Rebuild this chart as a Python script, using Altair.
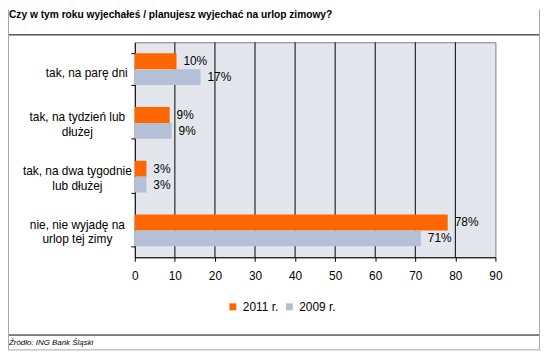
import altair as alt
import pandas as pd

# ---- data ----
categories = [
    "tak, na parę dni",
    "tak, na tydzień lub|dłużej",
    "tak, na dwa tygodnie|lub dłużej",
    "nie, nie wyjadę na|urlop tej zimy",
]
series = ["2011 r.", "2009 r."]
values_2011 = [10.4, 8.7, 2.9, 78.1]
values_2009 = [16.4, 9.2, 2.9, 71.4]
labels_2011 = ["10%", "9%", "3%", "78%"]
labels_2009 = ["17%", "9%", "3%", "71%"]
x_ticks = [0, 10, 20, 30, 40, 50, 60, 70, 80, 90]
grid_values = [10, 20, 30, 40, 50, 60, 70, 80]
title_text = "Czy w tym roku wyjechałeś / planujesz wyjechać na urlop zimowy?"
source_text = "Źródło: ING Bank Śląski"
colors = ["#FF6600", "#B4C0D6"]

rows = []
for c, v, l in zip(categories, values_2011, labels_2011):
    rows.append({"category": c, "series": series[0], "value": v, "label": l})
for c, v, l in zip(categories, values_2009, labels_2009):
    rows.append({"category": c, "series": series[1], "value": v, "label": l})
df = pd.DataFrame(rows)
cat_df = pd.DataFrame({"category": categories})
grid_df = pd.DataFrame({"value": grid_values})
one = pd.DataFrame({"k": [0]})

FONT = "Liberation Sans"
W, H = 364, 217

x_scale = alt.Scale(domain=[0, 90], nice=False)
x_enc = alt.X(
    "value:Q",
    scale=x_scale,
    axis=alt.Axis(
        title=None, values=x_ticks, tickSize=4, labelPadding=9, labelFontSize=12,
        labelFont=FONT, labelColor="black", domainColor="black", tickColor="black",
        grid=False, labelFlush=False,
    ),
)
y_enc = alt.Y(
    "category:N",
    sort=categories,
    scale=alt.Scale(paddingInner=0.41, paddingOuter=0.205),
    axis=alt.Axis(
        title=None, tickBand="extent", labels=False,
        domainColor="black", tickColor="black", tickSize=4, grid=False,
    ),
)
yoff_enc = alt.YOffset("series:N", sort=series, scale=alt.Scale(paddingInner=0, paddingOuter=0))

grid = alt.Chart(grid_df).mark_rule(color="black", strokeWidth=1).encode(x=x_enc)

bars = alt.Chart(df).mark_bar().encode(
    x=x_enc,
    y=y_enc,
    yOffset=yoff_enc,
    color=alt.Color(
        "series:N",
        sort=series,
        scale=alt.Scale(domain=series, range=colors),
        legend=alt.Legend(
            orient="none", legendX=93, legendY=261, direction="horizontal", title=None,
            symbolType="square", symbolSize=49, symbolStrokeWidth=0, labelFontSize=12,
            labelFont=FONT, labelColor="black", columnPadding=5, labelOffset=4, padding=0,
        ),
    ),
)

texts = alt.Chart(df).mark_text(
    align="left", baseline="middle", dx=7, fontSize=12, font=FONT, color="black"
).encode(x=x_enc, y=y_enc, yOffset=yoff_enc, text="label:N")

# category labels (single-line and two-line ones)
cat_single = alt.Chart(cat_df).transform_filter(
    "indexof(datum.category, '|') < 0"
).mark_text(
    align="center", baseline="middle", dy=3.5, fontSize=12, font=FONT, color="black"
).encode(y=y_enc, x=alt.value(-48.5), text="category:N")

cat_multi = alt.Chart(cat_df).transform_filter(
    "indexof(datum.category, '|') >= 0"
).mark_text(
    align="center", baseline="middle", dy=-5.8, fontSize=12, font=FONT, color="black",
    lineBreak="|", lineHeight=15,
).encode(y=y_enc, x=alt.value(-58), text="category:N")

title = alt.Chart(one).mark_text(
    align="left", baseline="alphabetic", fontSize=10.3, fontWeight="bold", font=FONT, color="black"
).encode(x=alt.value(-127), y=alt.value(-25), text=alt.value(title_text))

source = alt.Chart(one).mark_text(
    align="left", baseline="alphabetic", fontSize=8, fontStyle="italic", font=FONT, color="black"
).encode(x=alt.value(-127), y=alt.value(306), text=alt.value(source_text))

line_top = alt.Chart(one).mark_rule(color="black", strokeWidth=1).encode(
    x=alt.value(-128), x2=alt.value(409), y=alt.value(-7.5))
line_bottom = alt.Chart(one).mark_rule(color="black", strokeWidth=1).encode(
    x=alt.value(-128), x2=alt.value(409), y=alt.value(295.5))
frame_left = alt.Chart(one).mark_rule(color="#A6A6A6", strokeWidth=1).encode(
    x=alt.value(-127.5), y=alt.value(-33), y2=alt.value(310.5))
frame_right = alt.Chart(one).mark_rule(color="#A6A6A6", strokeWidth=1).encode(
    x=alt.value(408.5), y=alt.value(-33), y2=alt.value(310.5))
frame_bottom = alt.Chart(one).mark_rule(color="#A6A6A6", strokeWidth=1).encode(
    x=alt.value(-128), x2=alt.value(409), y=alt.value(310.5))

chart = alt.layer(
    grid, bars, texts, cat_single, cat_multi, title, source,
    line_top, line_bottom, frame_left, frame_right, frame_bottom
).properties(
    width=W, height=H,
    autosize=alt.AutoSizeParams(type="none"),
    padding={"left": 128, "top": 33, "right": 45, "bottom": 94},
    background="white",
).configure_view(
    fill="#E3E7ED", stroke="#808080", strokeWidth=1
)

chart.save("out.html", embed_options={"renderer": "svg", "actions": False})
